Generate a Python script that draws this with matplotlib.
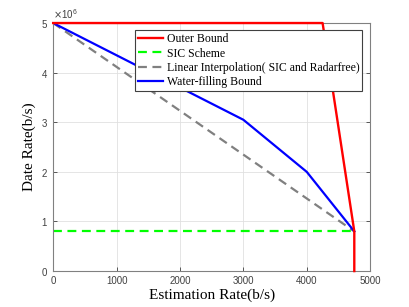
import matplotlib
matplotlib.use("Agg")
import matplotlib.pyplot as plt
from matplotlib.ticker import ScalarFormatter

# data (x in b/s, y in b/s)
outer_x = [0, 4250, 4750, 4750]
outer_y = [5.0e6, 5.0e6, 0.8e6, 0.0]

sic_x = [0, 4750]
sic_y = [0.8e6, 0.8e6]

linear_x = [0, 4750]
linear_y = [5.0e6, 0.8e6]

wf_x = [0, 1000, 2000, 3000, 4000, 4750]
wf_y = [5.0e6, 4.35e6, 3.7e6, 3.05e6, 2.0e6, 0.8e6]

labels = ["Outer Bound", "SIC Scheme",
          "Linear Interpolation( SIC and Radarfree)", "Water-filling Bound"]

serif = ["Liberation Serif", "DejaVu Serif"]
sans = ["Liberation Sans", "DejaVu Sans"]

fig = plt.figure(figsize=(4.09, 3.07), dpi=100)
ax = fig.add_axes([0.130, 0.117, 0.775, 0.808])

ax.plot(outer_x, outer_y, color="#ff0000", lw=1.7, label=labels[0], clip_on=False, zorder=4)
ax.plot(sic_x, sic_y, color="#00ff00", lw=1.6, ls=(0, (4, 2.5)), label=labels[1])
ax.plot(linear_x, linear_y, color="#808080", lw=1.6, ls=(0, (4, 2.5)), label=labels[2])
ax.plot(wf_x, wf_y, color="#0000ff", lw=1.6, label=labels[3])

ax.set_xlim(0, 5000)
ax.set_ylim(0, 5.0e6)
ax.set_xticks([0, 1000, 2000, 3000, 4000, 5000])
ax.set_yticks([0, 1e6, 2e6, 3e6, 4e6, 5e6])

fmt = ScalarFormatter(useMathText=True)
fmt.set_powerlimits((0, 0))
ax.yaxis.set_major_formatter(fmt)
ax.yaxis.get_offset_text().set_fontsize(7)
ax.yaxis.get_offset_text().set_family(sans)

ax.grid(True, color="#e0e0e0", lw=0.6)
ax.set_axisbelow(True)
for s in ax.spines.values():
    s.set_color("#808080")
    s.set_linewidth(0.8)
ax.tick_params(direction="in", length=3, width=0.6, colors="#404040",
               labelsize=7, top=False, right=True)
for lbl in ax.get_xticklabels() + ax.get_yticklabels():
    lbl.set_family(sans)

ax.set_xlabel("Estimation Rate(b/s)", fontsize=11, family=serif, labelpad=2)
ax.set_ylabel("Date Rate(b/s)", fontsize=11, family=serif, labelpad=4)

leg = ax.legend(loc="upper right", bbox_to_anchor=(0.975, 0.97),
                prop={"family": serif, "size": 8.5}, fancybox=False,
                framealpha=1, edgecolor="#404040", borderpad=0.25,
                labelspacing=0.18, handlelength=2.1, handletextpad=0.3,
                borderaxespad=0)
leg.get_frame().set_linewidth(0.8)
leg.set_zorder(5)

fig.savefig("out.png", dpi=100)
plt.close(fig)
